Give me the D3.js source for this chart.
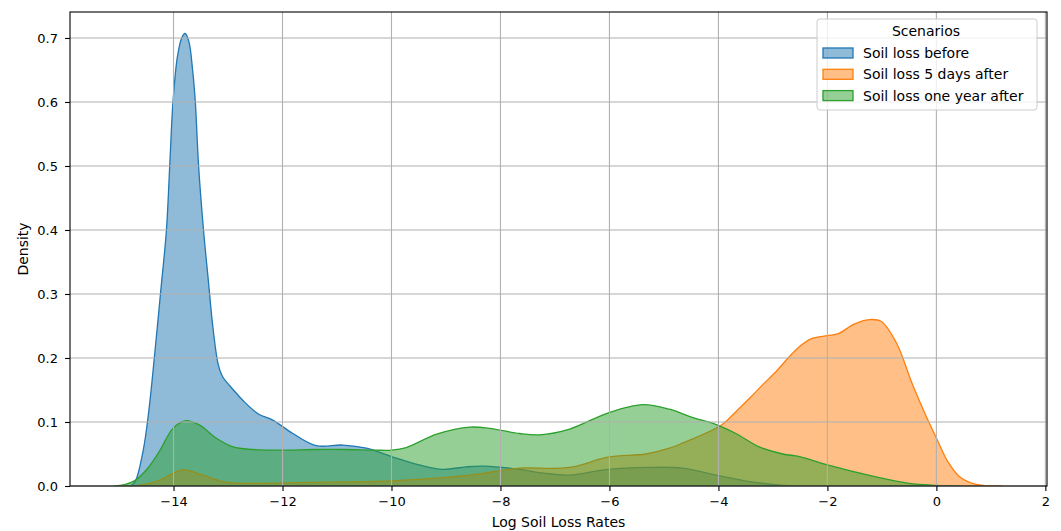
<!DOCTYPE html>
<html>
<head>
<meta charset="utf-8">
<script src="https://cdn.jsdelivr.net/npm/d3@7"></script>
<style>
  body { margin: 0; background: #fff; }
  text { font-family: "DejaVu Sans", sans-serif; fill: #000; }
</style>
</head>
<body>
<div id="graph"></div>
<script>
// density curves (x = log soil loss rate, y = density)
var beforeX = [-14.8, -14.71, -14.56, -14.45, -14.33, -14.24, -14.13, -14.07, -14.01, -13.93, -13.85, -13.79, -13.72, -13.65, -13.6, -13.54, -13.45, -13.36, -13.28, -13.18, -13.1, -12.9, -12.73, -12.45, -12.18, -11.81, -11.38, -10.89, -10.46, -10.0, -9.49, -9.06, -8.63, -8.3, -7.65, -7.2, -6.73, -6.03, -5.3, -4.66, -4.04, -3.43, -2.8, -2.3]
var beforeY = [0, 0.006, 0.054, 0.12, 0.22, 0.3, 0.4, 0.5, 0.6, 0.67, 0.7, 0.707, 0.695, 0.65, 0.6, 0.5, 0.4, 0.32, 0.25, 0.19, 0.171, 0.15, 0.134, 0.113, 0.103, 0.082, 0.063, 0.064, 0.059, 0.046, 0.033, 0.026, 0.03, 0.031, 0.026, 0.02, 0.017, 0.026, 0.029, 0.028, 0.017, 0.007, 0.001, 0]

var fiveDaysX = [-14.8, -14.5, -14.26, -13.83, -13.46, -13.1, -12.6, -12.0, -11.2, -10.0, -9.05, -8.38, -8.0, -7.65, -6.73, -6.03, -5.33, -4.9, -4.66, -3.95, -3.68, -3.43, -3.19, -2.94, -2.7, -2.51, -2.3, -2.0, -1.8, -1.51, -1.23, -1.01, -0.73, -0.44, -0.15, 0.0, 0.21, 0.42, 0.71, 1.21]
var fiveDaysY = [0, 0.003, 0.009, 0.025, 0.017, 0.007, 0.004, 0.005, 0.006, 0.008, 0.013, 0.019, 0.024, 0.028, 0.029, 0.045, 0.05, 0.059, 0.067, 0.095, 0.116, 0.137, 0.158, 0.179, 0.202, 0.218, 0.23, 0.235, 0.238, 0.253, 0.26, 0.257, 0.223, 0.159, 0.102, 0.075, 0.038, 0.015, 0.003, 0]

var oneYearX = [-15.08, -14.9, -14.72, -14.5, -14.26, -14.01, -13.77, -13.52, -13.22, -12.91, -12.54, -12.0, -11.4, -10.89, -10.3, -10.0, -9.73, -9.17, -8.56, -8.2, -7.65, -7.28, -6.73, -6.03, -5.39, -4.9, -4.47, -4.04, -3.68, -3.25, -2.82, -2.51, -2.0, -1.15, -0.5, 0.0, 0.42]
var oneYearY = [0, 0.002, 0.008, 0.025, 0.054, 0.09, 0.102, 0.095, 0.075, 0.061, 0.057, 0.056, 0.057, 0.057, 0.056, 0.056, 0.06, 0.081, 0.092, 0.09, 0.082, 0.08, 0.089, 0.114, 0.127, 0.12, 0.107, 0.096, 0.082, 0.061, 0.05, 0.046, 0.033, 0.015, 0.004, 0.001, 0]

var scenarios = ["Soil loss before", "Soil loss 5 days after", "Soil loss one year after"]
var colors = ["#1f77b4", "#ff7f0e", "#2ca02c"]
var xTicks = [-14, -12, -10, -8, -6, -4, -2, 0, 2]
var yTicks = [0, 0.1, 0.2, 0.3, 0.4, 0.5, 0.6, 0.7]

var series = [
    { name: scenarios[0], xs: beforeX, ys: beforeY },
    { name: scenarios[1], xs: fiveDaysX, ys: fiveDaysY },
    { name: scenarios[2], xs: oneYearX, ys: oneYearY }
]

var W = 1061, H = 531
var margin = { top: 12, right: 14, bottom: 45, left: 70 }
var width = W - margin.left - margin.right,
    height = H - margin.top - margin.bottom

var x = d3.scaleLinear().domain([-15.9, 2.03]).range([0, width])
var y = d3.scaleLinear().domain([0, 0.7406]).range([height, 0])

var svg = d3.select("#graph").append("svg")
    .attr("width", W)
    .attr("height", H)
    .append("g")
    .attr("transform", "translate(" + margin.left + "," + margin.top + ")")

svg.append("defs").append("clipPath")
    .attr("id", "clip")
    .append("rect")
    .attr("width", width)
    .attr("height", height)

var plot = svg.append("g").attr("clip-path", "url(#clip)")

var area = d3.area()
    .x(function (d) { return x(d[0]) })
    .y0(y(0))
    .y1(function (d) { return y(Math.max(0, d[1])) })
    .curve(d3.curveCatmullRom.alpha(0.5))

// layers drawn in hue order, last one on top
series.forEach(function (s, i) {
    var pts = s.xs.map(function (v, j) { return [v, s.ys[j]] })
    plot.append("path")
        .datum(pts)
        .attr("d", area)
        .attr("fill", colors[i])
        .attr("fill-opacity", 0.5)
        .attr("stroke", colors[i])
        .attr("stroke-width", 1.3)
        .attr("stroke-linejoin", "round")
})

// grid sits above the fills like matplotlib's default zorder
var grid = svg.append("g").attr("class", "grid")
grid.selectAll(".vgrid")
    .data(xTicks)
    .enter()
    .append("line")
    .attr("x1", function (d) { return x(d) })
    .attr("x2", function (d) { return x(d) })
    .attr("y1", 0)
    .attr("y2", height)
    .attr("stroke", "#b0b0b0")
    .attr("stroke-width", 1.1)
grid.selectAll(".hgrid")
    .data(yTicks)
    .enter()
    .append("line")
    .attr("x1", 0)
    .attr("x2", width)
    .attr("y1", function (d) { return y(d) })
    .attr("y2", function (d) { return y(d) })
    .attr("stroke", "#b0b0b0")
    .attr("stroke-width", 1.1)

// axes
var xAxis = d3.axisBottom(x).tickValues(xTicks).tickSize(5).tickPadding(6)
    .tickFormat(function (d) { return d < 0 ? "\u2212" + Math.abs(d) : d })
var yAxis = d3.axisLeft(y).tickValues(yTicks).tickSize(5).tickPadding(7)
    .tickFormat(d3.format(".1f"))

var gx = svg.append("g")
    .attr("transform", "translate(0," + height + ")")
    .call(xAxis)
var gy = svg.append("g").call(yAxis)

;[gx, gy].forEach(function (g) {
    g.select(".domain").remove()
    g.selectAll("line").attr("stroke", "#000").attr("stroke-width", 1.1)
    g.selectAll("text").style("font-size", "13px").attr("fill", "#000")
})

svg.append("rect")
    .attr("width", width)
    .attr("height", height)
    .attr("fill", "none")
    .attr("stroke", "#000")
    .attr("stroke-width", 1.1)

svg.append("text")
    .attr("x", width / 2)
    .attr("y", height + 41)
    .attr("text-anchor", "middle")
    .style("font-size", "14px")
    .text("Log Soil Loss Rates")

svg.append("text")
    .attr("transform", "translate(" + (-47) + "," + (height / 2) + ") rotate(-90)")
    .attr("text-anchor", "middle")
    .attr("dy", "0.35em")
    .style("font-size", "14px")
    .text("Density")

// legend
var lx = 817 - margin.left, ly = 19 - margin.top
var legend = svg.append("g").attr("transform", "translate(" + lx + "," + ly + ")")
legend.append("rect")
    .attr("width", 220)
    .attr("height", 91)
    .attr("rx", 3)
    .attr("fill", "#fff")
    .attr("fill-opacity", 0.8)
    .attr("stroke", "#cccccc")
    .attr("stroke-width", 1)

legend.append("text")
    .attr("x", 109)
    .attr("y", 17)
    .attr("text-anchor", "middle")
    .style("font-size", "14px")
    .text("Scenarios")

scenarios.forEach(function (name, i) {
    var row = legend.append("g").attr("transform", "translate(6," + (34 + i * 21.3) + ")")
    row.append("rect")
        .attr("x", 0)
        .attr("y", -5)
        .attr("width", 30)
        .attr("height", 10)
        .attr("fill", colors[i])
        .attr("fill-opacity", 0.5)
        .attr("stroke", colors[i])
        .attr("stroke-width", 1.3)
    row.append("text")
        .attr("x", 40)
        .attr("y", 5)
        .style("font-size", "14px")
        .text(name)
})
</script>
</body>
</html>
